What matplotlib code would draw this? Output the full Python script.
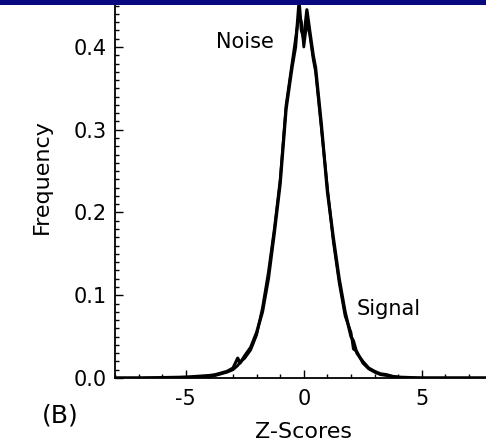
import matplotlib
matplotlib.use("Agg")
import matplotlib.pyplot as plt
from matplotlib.ticker import MultipleLocator, FormatStrFormatter
from matplotlib.patches import Rectangle

plt.rcParams['font.family'] = ['DejaVu Sans']
plt.rcParams['axes.unicode_minus'] = False

z_scores = [-8, -7, -6, -5, -4.5, -4, -3.75, -3.5, -3.25, -3, -2.8, -2.7, -2.5, -2.25,
            -2, -1.75, -1.5, -1.25, -1, -0.75, -0.5, -0.35, -0.2, -0.1, 0, 0.13, 0.25,
            0.4, 0.5, 0.75, 1, 1.25, 1.5, 1.75, 2, 2.1, 2.25, 2.5, 2.75, 3, 3.25, 3.5,
            3.75, 4, 4.5, 5, 6, 7, 8]
noise = [0, 0, 0.0005, 0.001, 0.002, 0.003, 0.004, 0.006, 0.008, 0.012, 0.024, 0.018,
         0.027, 0.037, 0.055, 0.08, 0.12, 0.175, 0.235, 0.325, 0.375, 0.40, 0.455, 0.42,
         0.41, 0.445, 0.42, 0.39, 0.375, 0.305, 0.225, 0.17, 0.12, 0.08, 0.05, 0.045,
         0.03, 0.02, 0.012, 0.008, 0.005, 0.004, 0.002, 0.001, 0.0005, 0, 0, 0, 0]
signal = [0, 0, 0, 0.001, 0.001, 0.002, 0.003, 0.005, 0.007, 0.010, 0.015, 0.019,
          0.024, 0.034, 0.052, 0.085, 0.128, 0.18, 0.24, 0.33, 0.38, 0.41, 0.44, 0.43,
          0.40, 0.43, 0.415, 0.385, 0.37, 0.30, 0.23, 0.165, 0.115, 0.075, 0.055, 0.035,
          0.032, 0.018, 0.011, 0.007, 0.004, 0.003, 0.002, 0.001, 0, 0, 0, 0, 0]

W, H = 486, 446
px_per_unit_y = 827.5
y_top = 0.46
fig = plt.figure(figsize=(W / 100, H / 100), dpi=100)
ax_left, ax_bottom = 115 / W, 1 - 378 / H
ax_w = 377.6 / W
ax_h = y_top * px_per_unit_y / H
ax = fig.add_axes([ax_left, ax_bottom, ax_w, ax_h])

ax.plot(z_scores, noise, color='black', lw=2.3)
ax.plot(z_scores, signal, color='black', lw=2.0)

ax.set_xlim(-8, 8)
ax.set_ylim(0, y_top)
ax.spines['top'].set_visible(False)
ax.spines['right'].set_visible(False)
for s in ('left', 'bottom'):
    ax.spines[s].set_linewidth(1.3)

ax.xaxis.set_major_locator(MultipleLocator(5))
ax.xaxis.set_minor_locator(MultipleLocator(1))
ax.yaxis.set_major_locator(MultipleLocator(0.1))
ax.yaxis.set_minor_locator(MultipleLocator(0.01))
ax.yaxis.set_major_formatter(FormatStrFormatter('%.1f'))
ax.tick_params(which='both', direction='in', width=1.0, labelsize=15)
ax.tick_params(which='major', length=6)
ax.tick_params(which='minor', length=3)
ax.tick_params(axis='y', which='major', pad=6)
ax.tick_params(axis='x', which='major', pad=8)
ax.tick_params(top=False, right=False, which='both')

ax.set_xlabel('Z-Scores', fontsize=16)
ax.set_ylabel('Frequency', fontsize=16)
ax.xaxis.set_label_coords(0.5, -(432 - 378) / (H * ax_h), transform=ax.transAxes)
ax.xaxis.label.set_va('center')
ax.yaxis.set_label_coords((42 - 115) / 377.6, (378 - 177) / (y_top * px_per_unit_y))
ax.yaxis.label.set_va('center')

ax.text(-3.73, 0.399, 'Noise', fontsize=15, ha='left', va='baseline')
ax.text(2.25, 0.076, 'Signal', fontsize=15, ha='left', va='baseline')

fig.text(60 / W, 1 - 415 / H, '(B)', fontsize=18, ha='center', va='center')

fig.add_artist(Rectangle((0, 1 - 5 / H), 1, 5 / H, transform=fig.transFigure,
                         facecolor='#0a0a80', edgecolor='none', zorder=10))

fig.savefig('out.png', dpi=100)
